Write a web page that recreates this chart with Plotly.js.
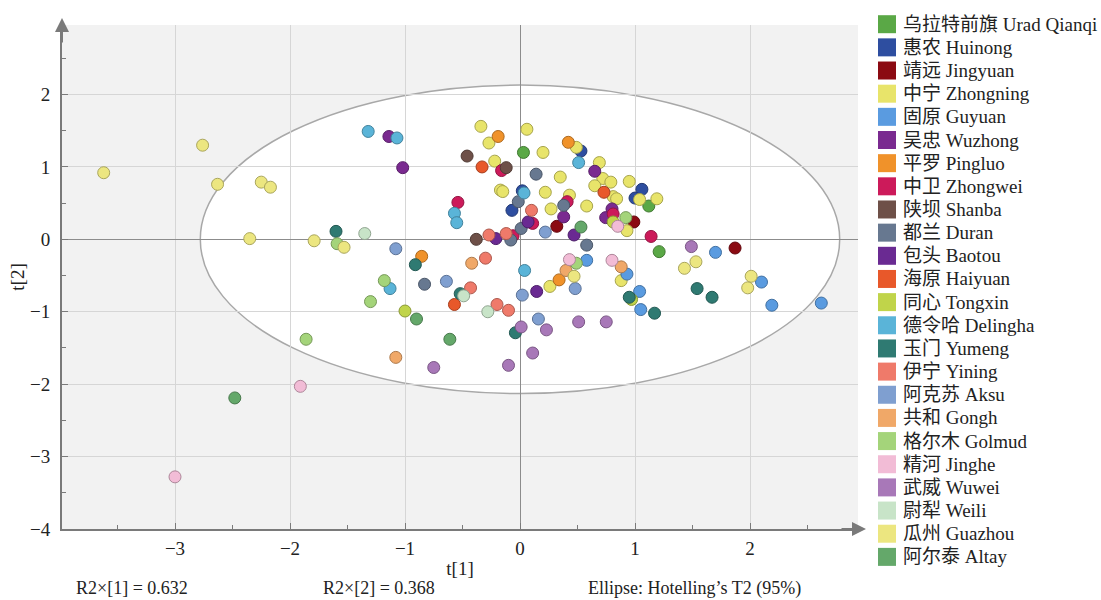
<!DOCTYPE html>
<html><head><meta charset="utf-8">
<script src="https://cdn.plot.ly/plotly-3.0.1.min.js"></script>
<style>html,body{margin:0;padding:0;background:#fff}</style>
</head><body><div id="chart" style="width:1101px;height:600px"></div>
<script>
// ---------- categories ----------
const seriesNames = ['乌拉特前旗 Urad Qianqi','惠农 Huinong','靖远 Jingyuan','中宁 Zhongning','固原 Guyuan','吴忠 Wuzhong','平罗 Pingluo','中卫 Zhongwei','陕坝 Shanba','都兰 Duran','包头 Baotou','海原 Haiyuan','同心 Tongxin','德令哈 Delingha','玉门 Yumeng','伊宁 Yining','阿克苏 Aksu','共和 Gongh','格尔木 Golmud','精河 Jinghe','武威 Wuwei','尉犁 Weili','瓜州 Guazhou','阿尔泰 Altay'];
const seriesColors = ['#5aa846','#2e4ea0','#8b0a12','#e8e46a','#5a9be0','#7a2a90','#f0922a','#cc1a5a','#6e5048','#677890','#6a2a92','#e8582a','#c0d44a','#5ab4d8','#2f7a72','#ef7a6a','#7f9fd0','#f0a868','#a4d47a','#f2bcd6','#a878b8','#c8e4c8','#ece680','#64a86a'];

// ---------- scores t[1], t[2] per series ----------
const uradT1 = [0.03, 1.12, 1.21];
const uradT2 = [1.20, 0.46, -0.17];
const huinongT1 = [0.02, -0.07, 0.53, 1.06, 1.00];
const huinongT2 = [0.67, 0.40, 1.22, 0.69, 0.57];
const jingyuanT1 = [0.32, 0.99, 1.87];
const jingyuanT2 = [0.18, 0.24, -0.12];
const zhongningT1 = [-0.34, -0.27, 0.06, -0.22, -0.17, -0.15, 0.20, 0.35, 0.22, 0.27, 0.49, 0.69, 0.72, 0.79, 0.65, 0.81, 0.84, 0.95, 1.04, 1.19, 0.43, 0.58, 0.93, 0.26, 0.88];
const zhongningT2 = [1.56, 1.33, 1.52, 1.08, 0.68, 0.66, 1.20, 0.86, 0.65, 0.42, 1.27, 1.06, 0.84, 0.79, 0.74, 0.59, 0.56, 0.80, 0.55, 0.56, 0.61, 0.46, 0.12, -0.65, -0.57];
const guyuanT1 = [0.58, 0.93, 1.04, 1.05, 1.70, 2.10, 2.19, 2.62];
const guyuanT2 = [-0.29, -0.48, -0.72, -0.97, -0.18, -0.59, -0.91, -0.88];
const wuzhongT1 = [-1.14, -1.02, 0.65, 0.80, 0.745, 0.38];
const wuzhongT2 = [1.42, 0.99, 0.94, 0.42, 0.30, 0.31];
const pingluoT1 = [-0.19, 0.42, -0.855, 0.34];
const pingluoT2 = [1.42, 1.34, -0.235, -0.56];
const zhongweiT1 = [-0.16, -0.54, -0.06, 0.11, 0.41, 0.81, 1.14];
const zhongweiT2 = [0.95, 0.51, 0.05, 0.22, 0.52, 0.35, 0.04];
const shanbaT1 = [-0.46, -0.12, -0.38];
const shanbaT2 = [1.15, 0.99, 0.00];
const duranT1 = [0.14, -0.015, -0.08, 0.01, 0.38, 0.58, -0.83];
const duranT2 = [0.90, 0.52, -0.01, 0.15, 0.47, -0.08, -0.62];
const baotouT1 = [-0.21, 0.07, 0.47, 0.145];
const baotouT2 = [0.01, 0.24, 0.06, -0.72];
const haiyuanT1 = [-0.33, 0.73, -0.57];
const haiyuanT2 = [1.00, 0.65, -0.90];
const tongxinT1 = [-1.00, 0.81, 0.97];
const tongxinT2 = [-0.99, 0.24, -0.83];
const delinghaT1 = [-1.32, -1.07, 0.035, -0.57, -0.55, 0.04, -1.13, 0.51];
const delinghaT2 = [1.49, 1.40, 0.64, 0.36, 0.23, -0.43, -0.68, 1.06];
const yumengT1 = [-1.60, -0.91, -0.52, -0.04, 0.95, 1.17, 1.54, 1.67];
const yumengT2 = [0.11, -0.35, -0.75, -1.29, -0.80, -1.02, -0.68, -0.80];
const yiningT1 = [0.10, -0.27, -0.12, -0.30, -0.43, -0.20, -0.10];
const yiningT2 = [0.40, 0.06, 0.08, -0.26, -0.67, -0.90, -0.98];
const aksuT1 = [-1.08, -0.64, 0.02, 0.16, 0.22, 0.48];
const aksuT2 = [-0.13, -0.58, -0.77, -1.10, 0.10, -0.68];
const gonghT1 = [-0.42, 0.40, 0.88, -1.08];
const gonghT2 = [-0.33, -0.43, -0.38, -1.63];
const golmudT1 = [-1.59, -1.18, -1.30, 0.92, 0.49, -1.86];
const golmudT2 = [-0.06, -0.57, -0.86, 0.30, -0.33, -1.38];
const jingheT1 = [0.85, 0.43, 0.80, -1.91, -3.00];
const jingheT2 = [0.18, -0.28, -0.29, -2.03, -3.28];
const wuweiT1 = [-0.75, -0.10, 0.01, 0.11, 0.23, 0.51, 0.75, 1.49];
const wuweiT2 = [-1.77, -1.74, -1.21, -1.57, -1.25, -1.14, -1.14, -0.10];
const weiliT1 = [-1.35, -0.49, -0.28];
const weiliT2 = [0.08, -0.78, -1.00];
const guazhouT1 = [-3.62, -2.76, -2.63, -2.25, -2.17, -2.35, -1.79, -1.53, 0.47, 1.53, 1.43, 2.01, 1.98];
const guazhouT2 = [0.92, 1.30, 0.76, 0.79, 0.72, 0.01, -0.02, -0.11, -0.51, -0.31, -0.40, -0.51, -0.67];
const altayT1 = [0.53, -0.90, -0.61, -2.48];
const altayT2 = [0.17, -1.10, -1.38, -2.19];

const seriesT1 = [uradT1, huinongT1, jingyuanT1, zhongningT1, guyuanT1, wuzhongT1, pingluoT1, zhongweiT1, shanbaT1, duranT1, baotouT1, haiyuanT1, tongxinT1, delinghaT1, yumengT1, yiningT1, aksuT1, gonghT1, golmudT1, jingheT1, wuweiT1, weiliT1, guazhouT1, altayT1];
const seriesT2 = [uradT2, huinongT2, jingyuanT2, zhongningT2, guyuanT2, wuzhongT2, pingluoT2, zhongweiT2, shanbaT2, duranT2, baotouT2, haiyuanT2, tongxinT2, delinghaT2, yumengT2, yiningT2, aksuT2, gonghT2, golmudT2, jingheT2, wuweiT2, weiliT2, guazhouT2, altayT2];

const r2x1 = 0.632, r2x2 = 0.368;
const ellipseA = 2.78, ellipseB = 2.13; // Hotelling's T2 (95%) semi-axes

// ---------- layout helpers ----------
const W = 1101, H = 600, L = 62, R = 858, T = 25, B = 529;
const pxX = x => (x - L) / (R - L);
const pxY = y => (B - y) / (B - T);
const SERIF = 'Liberation Serif, "Noto Sans CJK SC", serif';
const TXT = '#222';

function darken(hex, f) {
  const n = parseInt(hex.slice(1), 16);
  const r = Math.round(((n >> 16) & 255) * f), g = Math.round(((n >> 8) & 255) * f), b = Math.round((n & 255) * f);
  return 'rgb(' + r + ',' + g + ',' + b + ')';
}

const traces = seriesNames.map((nm, i) => ({
  type: 'scatter', mode: 'markers', name: nm,
  x: seriesT1[i], y: seriesT2[i], showlegend: false, cliponaxis: false,
  marker: { size: 12, color: seriesColors[i], line: { color: darken(seriesColors[i], 0.72), width: 1 } }
}));

const shapes = [{
  type: 'circle', xref: 'x', yref: 'y', layer: 'below',
  x0: -ellipseA, x1: ellipseA, y0: -ellipseB, y1: ellipseB,
  fillcolor: '#ffffff', line: { color: '#a8a8a8', width: 1.5 }
}];
const annotations = [];

// manual legend (squares + labels)
const legTop = 24.2, legStep = 23.16;
seriesNames.forEach((nm, i) => {
  const cy = legTop + i * legStep;
  shapes.push({ type: 'rect', xref: 'paper', yref: 'paper', x0: pxX(878), x1: pxX(896), y0: pxY(cy + 9), y1: pxY(cy - 9), fillcolor: seriesColors[i], line: { width: 0 } });
  annotations.push({ xref: 'paper', yref: 'paper', x: pxX(901), y: pxY(cy), xanchor: 'left', yanchor: 'middle', showarrow: false, text: nm, font: { family: SERIF, size: 19, color: TXT } });
});

// axis arrows
annotations.push({ xref: 'paper', yref: 'paper', x: 0, y: pxY(18), ax: 0, ay: 26, showarrow: true, arrowhead: 2, arrowsize: 1.4, arrowwidth: 2, arrowcolor: '#7a7a7a', text: '' });
annotations.push({ xref: 'paper', yref: 'paper', x: pxX(866), y: 0, ax: -26, ay: 0, showarrow: true, arrowhead: 2, arrowsize: 1.4, arrowwidth: 2, arrowcolor: '#7a7a7a', text: '' });

// footer texts
const footY = pxY(588);
annotations.push({ xref: 'paper', yref: 'paper', x: pxX(74), y: footY, xanchor: 'left', yanchor: 'middle', showarrow: false, text: 'R2×[1] = ' + r2x1.toFixed(3), font: { family: SERIF, size: 18, color: TXT } });
annotations.push({ xref: 'paper', yref: 'paper', x: pxX(321), y: footY, xanchor: 'left', yanchor: 'middle', showarrow: false, text: 'R2×[2] = ' + r2x2.toFixed(3), font: { family: SERIF, size: 18, color: TXT } });
annotations.push({ xref: 'paper', yref: 'paper', x: pxX(586), y: footY, xanchor: 'left', yanchor: 'middle', showarrow: false, text: 'Ellipse: Hotelling’s T2 (95%)', font: { family: SERIF, size: 18, color: TXT } });

const axisCommon = {
  showgrid: true, gridcolor: '#d6d6d6', gridwidth: 1,
  zeroline: true, zerolinecolor: '#8c8c8c', zerolinewidth: 1,
  showline: true, linecolor: '#7a7a7a', linewidth: 2,
  ticks: 'inside', ticklen: 6, tickwidth: 1, tickcolor: '#7a7a7a',
  tick0: 0, dtick: 1,
  minor: { dtick: 0.5, ticks: 'inside', ticklen: 4, tickcolor: '#7a7a7a', showgrid: false },
  tickfont: { family: SERIF, size: 19, color: TXT },
  fixedrange: true
};

const layout = {
  width: W, height: H,
  margin: { l: L, r: W - R, t: T, b: H - B, pad: 0 },
  paper_bgcolor: '#ffffff', plot_bgcolor: '#f2f2f2',
  showlegend: false,
  xaxis: Object.assign({}, axisCommon, {
    range: [(L - 520) / 115, (R - 520) / 115],
    ticklabelstandoff: 1,
    title: { text: 't[1]', font: { family: SERIF, size: 19, color: TXT }, standoff: 4 }
  }),
  yaxis: Object.assign({}, axisCommon, {
    range: [-4, (239 - T) / 72.3],
    ticklabelstandoff: 6,
    title: { text: 't[2]', font: { family: SERIF, size: 19, color: TXT }, standoff: 0 }
  }),
  shapes: shapes,
  annotations: annotations
};

Plotly.newPlot('chart', traces, layout, { displayModeBar: false, staticPlot: true });
</script>
</body></html>
